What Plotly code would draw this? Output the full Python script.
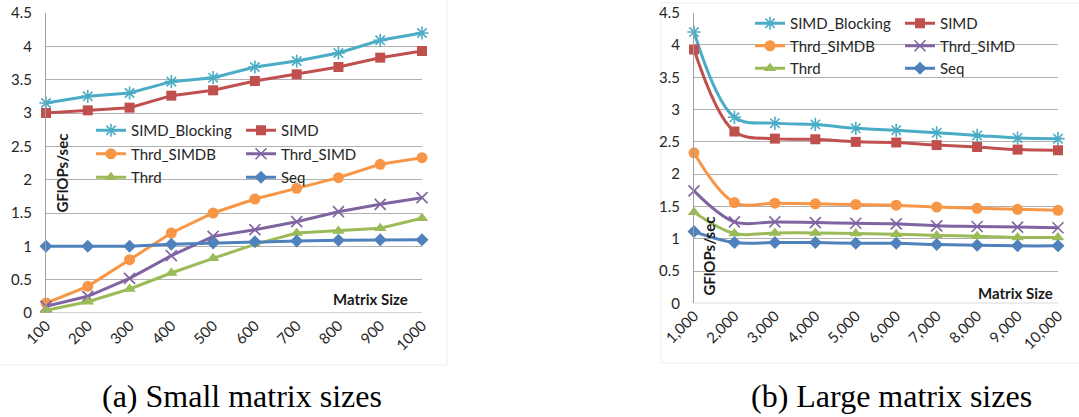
import plotly.graph_objects as go

# ---- data -------------------------------------------------------------
small_sizes = ["100", "200", "300", "400", "500", "600", "700", "800", "900", "1000"]
large_sizes = ["1,000", "2,000", "3,000", "4,000", "5,000", "6,000", "7,000", "8,000", "9,000", "10,000"]

series_names = ["SIMD_Blocking", "SIMD", "Thrd_SIMDB", "Thrd_SIMD", "Thrd", "Seq"]

small_simd_blocking = [3.15, 3.25, 3.30, 3.47, 3.53, 3.69, 3.78, 3.90, 4.09, 4.20]
small_simd = [3.00, 3.04, 3.08, 3.26, 3.34, 3.48, 3.58, 3.69, 3.83, 3.93]
small_thrd_simdb = [0.15, 0.40, 0.80, 1.20, 1.50, 1.71, 1.87, 2.03, 2.23, 2.33]
small_thrd_simd = [0.10, 0.25, 0.52, 0.86, 1.15, 1.25, 1.37, 1.52, 1.63, 1.73]
small_thrd = [0.04, 0.17, 0.36, 0.60, 0.82, 1.03, 1.20, 1.23, 1.27, 1.42]
small_seq = [1.00, 1.00, 1.00, 1.03, 1.05, 1.07, 1.08, 1.09, 1.10, 1.10]

large_simd_blocking = [4.20, 2.88, 2.79, 2.77, 2.71, 2.68, 2.64, 2.60, 2.56, 2.55]
large_simd = [3.93, 2.66, 2.55, 2.54, 2.50, 2.49, 2.45, 2.42, 2.38, 2.37]
large_thrd_simdb = [2.33, 1.56, 1.55, 1.54, 1.53, 1.52, 1.49, 1.47, 1.455, 1.44]
large_thrd_simd = [1.74, 1.26, 1.26, 1.25, 1.24, 1.23, 1.20, 1.19, 1.18, 1.17]
large_thrd = [1.41, 1.08, 1.09, 1.09, 1.08, 1.07, 1.05, 1.04, 1.02, 1.02]
large_seq = [1.11, 0.94, 0.94, 0.94, 0.93, 0.93, 0.91, 0.90, 0.89, 0.89]

y_ticks = [0, 0.5, 1, 1.5, 2, 2.5, 3, 3.5, 4, 4.5]

# ---- styles -----------------------------------------------------------
colors = ["#4bacc6", "#c0504d", "#f79646", "#8064a2", "#9bbb59", "#4f81bd"]
symbols = ["asterisk-open", "square", "circle", "x-thin-open", "triangle-up", "diamond"]
sizes = [11, 10, 11, 11, 11, 10]
FONT = "Lato"

small_series = [small_simd_blocking, small_simd, small_thrd_simdb,
                small_thrd_simd, small_thrd, small_seq]
large_series = [large_simd_blocking, large_simd, large_thrd_simdb,
                large_thrd_simd, large_thrd, large_seq]

fig = go.Figure()


def add_series(xcats, values_list, xaxis, yaxis, legends, shape):
    for i, (name, vals) in enumerate(zip(series_names, values_list)):
        open_sym = symbols[i].endswith("open")
        fig.add_trace(go.Scatter(
            x=xcats, y=vals, name=name, mode="lines+markers",
            xaxis=xaxis, yaxis=yaxis,
            line=dict(color=colors[i], width=3, shape=shape, smoothing=1),
            marker=dict(symbol=symbols[i], size=sizes[i], color=colors[i],
                        line=dict(color=colors[i], width=1.6 if open_sym else 0)),
            legend=legends[i % 2], legendgroup=f"{xaxis}-{name}",
            cliponaxis=False,
        ))


add_series(small_sizes, small_series, "x", "y", ["legend", "legend2"], "linear")
add_series(large_sizes, large_series, "x2", "y2", ["legend3", "legend4"], "spline")

W, H = 1079, 417

axis_common = dict(showgrid=False, zeroline=False, ticks="", automargin=False,
                   tickfont=dict(family=FONT, size=15, color="#262626"),
                   showline=False)
yaxis_common = dict(range=[0, 4.5], tickvals=y_ticks, showgrid=True,
                    gridcolor="#b0b0b0", gridwidth=1, zeroline=False, automargin=False,
                    ticks="", showline=True, linecolor="#a0a0a0", linewidth=1,
                    tickfont=dict(family=FONT, size=15, color="#262626"),
                    ticklabelstandoff=10)

legend_common = dict(orientation="v", bgcolor="rgba(0,0,0,0)",
                     font=dict(family=FONT, size=15, color="#262626"),
                     traceorder="grouped", xanchor="left", yanchor="top",
                     itemclick=False, itemdoubleclick=False)

fig.update_layout(
    width=W, height=H,
    margin=dict(l=0, r=0, t=0, b=0, autoexpand=False),
    paper_bgcolor="white", plot_bgcolor="white",
    showlegend=True,
    xaxis=dict(domain=[46 / W, 422 / W], range=[0, 9], tickangle=-45,
               type="category", anchor="y", **axis_common),
    yaxis=dict(domain=[1 - 313 / H, 1 - 13 / H], anchor="x", **yaxis_common),
    xaxis2=dict(domain=[694 / W, 1058 / W], range=[0, 9], tickangle=-45,
                type="category", anchor="y2", **axis_common),
    yaxis2=dict(domain=[1 - 303.3 / H, 1 - 12.7 / H], anchor="x2", **yaxis_common),
    legend=dict(x=91 / W, y=1 - 114 / H, tracegroupgap=1, **legend_common),
    legend2=dict(x=241 / W, y=1 - 114 / H, tracegroupgap=1, **legend_common),
    legend3=dict(x=750 / W, y=1 - 7 / H, tracegroupgap=0, **legend_common),
    legend4=dict(x=900 / W, y=1 - 7 / H, tracegroupgap=0, **legend_common),
)

# faint chart-area frames
fig.add_shape(type="rect", xref="paper", yref="paper", layer="below",
              x0=-0.01, x1=447 / W, y0=1 - 365 / H, y1=1.01,
              line=dict(color="#ededed", width=1))
fig.add_shape(type="rect", xref="paper", yref="paper", layer="below",
              x0=661 / W, x1=1.01, y0=1 - 363 / H, y1=1 - 3 / H,
              line=dict(color="#ededed", width=1))

# axis lines along the zero baseline
for xa in ["x", "x2"]:
    fig.add_shape(type="line", xref=f"{xa} domain", yref="y" if xa == "x" else "y2",
                  x0=0, x1=1, y0=0, y1=0, line=dict(color="#a0a0a0", width=1))

# in-plot axis titles
title_font = dict(family=FONT, size=15, color="#1a1a1a")
fig.add_annotation(text="<b>GFlOPs/sec</b>", textangle=-90, xref="x domain", yref="y domain",
                   x=0.0426, y=0.465, xanchor="center", yanchor="middle",
                   showarrow=False, font=title_font)
fig.add_annotation(text="<b>Matrix Size</b>", xref="x domain", yref="y domain",
                   x=0.968, y=0.047, xanchor="right", yanchor="middle",
                   showarrow=False, font=title_font)
fig.add_annotation(text="<b>GFlOPs/sec</b>", textangle=-90, xref="x2 domain", yref="y2 domain",
                   x=0.0385, y=0.161, xanchor="center", yanchor="middle",
                   showarrow=False, font=title_font)
fig.add_annotation(text="<b>Matrix Size</b>", xref="x2 domain", yref="y2 domain",
                   x=0.992, y=0.036, xanchor="right", yanchor="middle",
                   showarrow=False, font=title_font)

# captions
cap_font = dict(family="Liberation Serif", size=32, color="black")
fig.add_annotation(text="(a) Small matrix sizes", xref="paper", yref="paper",
                   x=242 / W, y=1 - 396 / H, xanchor="center", yanchor="middle",
                   showarrow=False, font=cap_font)
fig.add_annotation(text="(b) Large matrix sizes", xref="paper", yref="paper",
                   x=891 / W, y=1 - 396 / H, xanchor="center", yanchor="middle",
                   showarrow=False, font=cap_font)

fig.write_html("out.html")
